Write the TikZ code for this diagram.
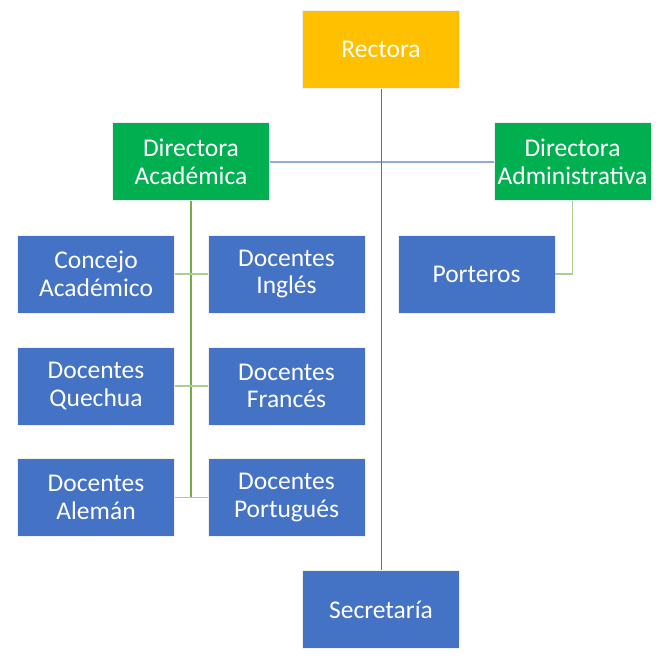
\documentclass[tikz,border=0pt]{standalone}
\usepackage{fontspec}
\setmainfont{Carlito}
\usepackage{xcolor}
\usetikzlibrary{calc}
\definecolor{gold}{HTML}{FFC000}
\definecolor{mgreen}{HTML}{00B050}
\definecolor{mblue}{HTML}{4472C4}
\definecolor{lblue}{HTML}{8FAADC}
\definecolor{dgreenline}{HTML}{70AD47}
\definecolor{lgreenline}{HTML}{A9D18E}

\begin{document}
\begin{tikzpicture}[x=1pt,y=-1pt,
  box/.style={draw=white!88!gray, line width=0.8pt, minimum width=157pt, minimum height=78pt,
    inner sep=0pt, align=center, text=white, font=\fontsize{25.5}{27.8}\selectfont},
  toplevel/.style={box, fill=gold},
  headbox/.style={box, fill=mgreen},
  unitbox/.style={box, fill=mblue},
  mainline/.style={draw=mblue, line width=1pt},
  headline/.style={draw=lblue, line width=1.6pt},
  trunk/.style={draw=dgreenline, line width=1.3pt},
  branch/.style={draw=lgreenline, line width=1.3pt}]
\useasboundingbox (0,0) rectangle (669,662);
\def\rowa{274}
\def\rowb{386}
\def\rowc{497.7}
% boxes
\path (381,49.5) node[toplevel] (rec) {Rectora};
\path (191,161.7) node[headbox] (dac) {Directora\\Académica};
\path (572.5,161.7) node[headbox] (dad) {Directora\\Administrativa};
\path (476.5,\rowa) node[unitbox] (por) {Porteros};
\path (96,\rowa) node[unitbox] (con) {Concejo\\Académico};
\path (286.5,\rowa) node[unitbox] (ing) {Docentes\\Inglés};
\path (96,\rowb) node[unitbox] (que) {Docentes\\Quechua};
\path (286.5,\rowb) node[unitbox] (fra) {Docentes\\Francés};
\path (96,\rowc) node[unitbox] (ale) {Docentes\\Alemán};
\path (286.5,\rowc) node[unitbox] (port) {Docentes\\Portugués};
\path (381,609.5) node[unitbox] (sec) {Secretaría};
% connectors
\draw[headline] (dac.east) -- (dad.west);
\draw[mainline] (rec.south) -- (sec.north);
\draw[trunk] (dac.south) -- (dac.south |- ale.east);
\draw[branch] (con.east) -- (ing.west);
\draw[branch] (que.east) -- (fra.west);
\draw[branch] (ale.east) -- (port.west);
\draw[branch] (dad.south) |- (por.east);
\end{tikzpicture}
\end{document}
